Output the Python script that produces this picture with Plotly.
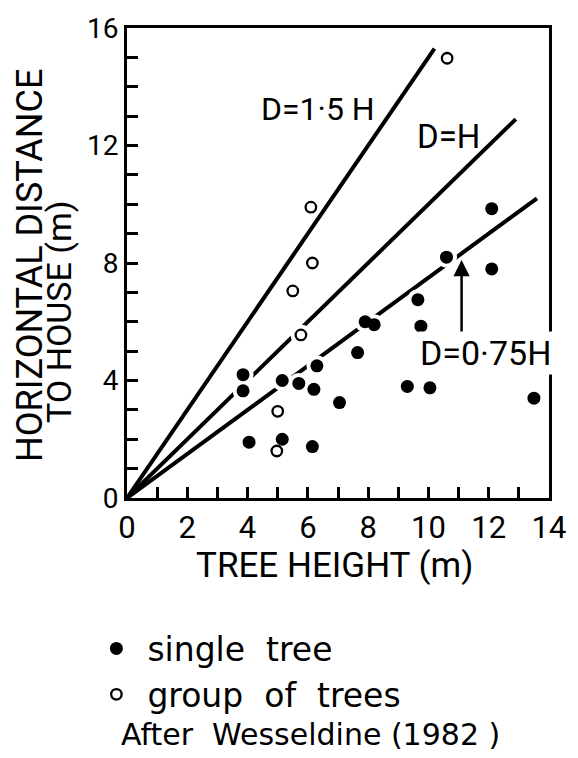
import plotly.graph_objects as go

# ---- data ----
single_h = [3.85, 3.85, 4.05, 5.15, 5.7, 6.2, 6.3, 5.15, 6.15, 7.05, 7.65, 7.9, 8.2,
            9.3, 10.05, 9.65, 9.75, 10.6, 12.1, 13.5, 12.1]
single_d = [4.2, 3.65, 1.9, 4.0, 3.9, 3.7, 4.5, 2.0, 1.75, 3.25, 4.95, 6.0, 5.9,
            3.8, 3.75, 6.75, 5.85, 8.2, 7.8, 3.4, 9.85]
group_h = [10.62, 6.1, 6.15, 5.5, 5.77, 5.0, 4.97]
group_d = [14.97, 9.9, 8.0, 7.05, 5.55, 2.95, 1.6]

line_labels = ["D=1·5 H", "D=H", "D=0·75H"]
line_slopes = [1.5, 1.0, 0.75]
line_x_end = [10.2, 12.9, 13.6]

x_tickvals = list(range(0, 15))
x_ticktext = [str(v) if v % 2 == 0 else "" for v in x_tickvals]
y_tickvals = list(range(0, 17))
y_ticktext = [str(v) if v % 4 == 0 else "" for v in y_tickvals]

FONT = "Roboto, 'DejaVu Sans', sans-serif"
FONT2 = "'DejaVu Sans', Roboto, sans-serif"
NB = "\u00a0"
W, H = 578, 758
L, R, T, B = 127, 25, 22, 260
PW, PH = W - L - R, H - T - B


def px(xp):
    return (xp - L) / PW


def py(yp):
    return (H - B - yp) / PH


fig = go.Figure()

# reference lines
for k, xe in zip(line_slopes, line_x_end):
    fig.add_trace(go.Scatter(x=[0, xe], y=[0, k * xe], mode="lines",
                             line=dict(color="black", width=4),
                             showlegend=False, hoverinfo="skip"))

# white halos (gaps in the lines around points)
fig.add_trace(go.Scatter(x=single_h + group_h, y=single_d + group_d, mode="markers",
                         marker=dict(color="white", size=21, line=dict(width=0)),
                         showlegend=False, hoverinfo="skip"))

fig.add_trace(go.Scatter(x=single_h, y=single_d, mode="markers",
                         name="single" + NB + NB + "tree",
                         marker=dict(color="black", size=13, line=dict(width=0))))
fig.add_trace(go.Scatter(x=group_h, y=group_d, mode="markers",
                         name="group" + NB + NB + "of" + NB + NB + "trees",
                         marker=dict(color="white", size=10.5,
                                     line=dict(color="black", width=2.3))))

annotations = [
    dict(x=6.34, y=13.25, xref="x", yref="y", text=line_labels[0], showarrow=False,
         font=dict(size=32, color="black", family=FONT)),
    dict(x=10.68, y=12.3, xref="x", yref="y", text=line_labels[1], showarrow=False,
         font=dict(size=33, color="black", family=FONT)),
    # arrow to the 0.75H line
    dict(x=11.1, y=8.1, xref="x", yref="y", ax=11.1, ay=5.5, axref="x", ayref="y",
         text="", showarrow=True, arrowhead=2, arrowsize=1.3, arrowwidth=2.5,
         arrowcolor="black"),
    dict(x=11.9, y=4.95, xref="x", yref="y", text=line_labels[2], showarrow=False,
         bgcolor="white", font=dict(size=34, color="black", family=FONT)),
    # y axis title (two lines)
    dict(x=px(29), y=py(262), xref="paper", yref="paper", text="HORIZONTAL DISTANCE",
         textangle=-90, showarrow=False, xanchor="center", yanchor="middle",
         font=dict(size=36, color="black", family=FONT)),
    dict(x=px(59), y=py(309), xref="paper", yref="paper", text="TO HOUSE (m)",
         textangle=-90, showarrow=False, xanchor="center", yanchor="middle",
         font=dict(size=34, color="black", family=FONT)),
    # x axis title
    dict(x=px(336), y=py(566), xref="paper", yref="paper", text="TREE HEIGHT (m)",
         showarrow=False, xanchor="center", yanchor="middle",
         font=dict(size=35, color="black", family=FONT)),
    # source
    dict(x=px(119), y=py(738), xref="paper", yref="paper",
         text="After" + NB + NB + "Wesseldine (1982" + NB + ")",
         showarrow=False, xanchor="left", yanchor="middle",
         font=dict(size=30, color="black", family=FONT2)),
]

axis_common = dict(showgrid=False, zeroline=False, showline=True, linecolor="black",
                   linewidth=3, mirror=True, ticks="inside", ticklen=11, tickwidth=2.5,
                   tickcolor="black")

fig.update_layout(
    width=W, height=H,
    margin=dict(l=L, r=R, t=T, b=B),
    paper_bgcolor="white", plot_bgcolor="white",
    font=dict(family=FONT, color="black"),
    xaxis=dict(range=[0, 14], tickvals=x_tickvals, ticktext=x_ticktext,
               tickfont=dict(size=31, family=FONT, color="black"), **axis_common),
    yaxis=dict(range=[0, 16], tickvals=y_tickvals, ticktext=y_ticktext,
               tickfont=dict(size=28, family=FONT, color="black"), **axis_common),
    showlegend=True,
    legend=dict(x=px(85), y=py(622), xanchor="left", yanchor="top",
                font=dict(size=33, family=FONT2, color="black"),
                bgcolor="rgba(0,0,0,0)", itemwidth=52, tracegroupgap=0),
    annotations=annotations,
)

fig.write_html("out.html")
